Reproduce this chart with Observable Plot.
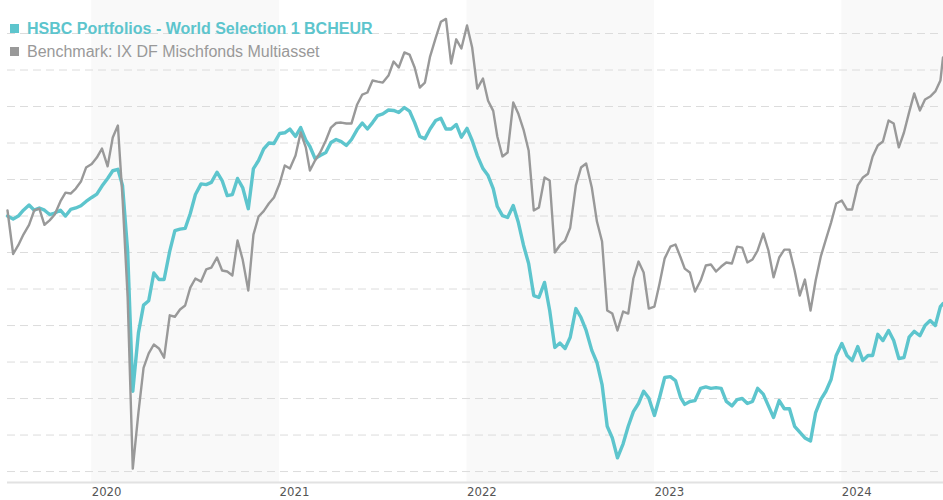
<!DOCTYPE html>
<html><head><meta charset="utf-8">
<script src="https://cdn.jsdelivr.net/npm/d3@7"></script>
<script src="https://cdn.jsdelivr.net/npm/@observablehq/plot@0.6"></script>
<style>
body{margin:0;background:#fff;}
#wrap{position:relative;width:943px;height:500px;}
#legend{position:absolute;left:10px;top:17px;font-family:"Liberation Sans",Arial,sans-serif;font-size:16px;line-height:23px;}
.item{display:flex;align-items:center;white-space:nowrap;}
.sw{width:9px;height:9px;margin-right:8px;}
</style></head><body><div id="wrap"><div id="chart"></div><div id="legend"></div></div>
<script>
// Series names
const seriesNames = ["HSBC Portfolios - World Selection 1 BCHEUR", "Benchmark: IX DF Mischfonds Multiasset"];
// Observation dates: 2019-07-21, then the 1st, 11th and 21st of each month, last 2024-07-16
const dates = ["2019-07-21"];
for (let y = 2019; y <= 2024; y++) for (let m = 1; m <= 12; m++) for (const d of [1, 11, 21]) {
  const s = `${y}-${String(m).padStart(2, "0")}-${String(d).padStart(2, "0")}`;
  if (s >= "2019-08-01" && s <= "2024-07-11") dates.push(s);
}
dates.push("2024-07-16");

// Performance (%)
const hsbc = [
  0.0, -0.2, 0.0, 0.4, 0.75, 0.4, 0.55, 0.4, 0.1, 0.2, 0.4, 0.0, 0.45, 0.55, 0.7, 1.0,
  1.27, 1.5, 2.05, 2.57, 3.1, 3.2, 2.1, -2.4, -12.0, -8.0, -6.1, -5.8, -3.9, -4.35, -4.35, -2.4, -1.0, -0.9,
  -0.85, 0.17, 1.47, 2.2, 2.15, 2.3, 3.0, 2.43, 1.4, 1.47, 2.57, 1.95, 0.5, 3.25, 3.8, 4.6, 5.0, 4.97,
  5.65, 5.7, 5.95, 5.45, 6.06, 5.2, 4.76, 3.94, 4.15, 4.35, 5.03, 5.24, 5.1, 4.83, 5.24, 5.92, 6.37, 5.96,
  6.4, 6.88, 7.0, 7.26, 7.23, 7.09, 7.43, 7.19, 6.4, 5.45, 5.3, 5.96, 6.54, 6.7, 5.96, 5.96, 6.27, 5.4,
  6.0, 5.17, 4.14, 3.25, 2.77, 1.88, 0.65, 0.03, -0.1, 0.72, -0.45, -2.0, -3.25, -5.45, -5.58, -4.55, -6.47, -9.0,
  -8.7, -9.07, -8.3, -6.34, -6.95, -7.84, -9.2, -10.03, -11.54, -14.4, -15.2, -16.56, -15.6, -14.4, -13.4, -12.84, -12.0, -12.47,
  -13.66, -12.43, -11.06, -11.0, -11.27, -12.43, -12.9, -12.7, -12.64, -11.8, -11.7, -11.8, -11.75, -11.8, -12.7, -13.0, -12.57, -12.5,
  -12.84, -12.7, -11.8, -12.2, -13.0, -13.8, -12.64, -13.2, -13.2, -14.4, -14.8, -15.2, -15.4, -13.46, -12.57, -12.0, -11.2, -9.55,
  -8.73, -9.55, -9.9, -8.94, -9.9, -9.55, -9.55, -8.1, -8.53, -7.84, -8.53, -9.76, -9.7, -8.3, -7.9, -8.2, -7.5, -7.16,
  -7.5, -6.2, -6.0
];
const benchmark = [
  0.38, -2.6, -2.0, -1.27, -0.6, 0.38, 0.5, -0.6, -0.3, 0.1, 1.0, 1.6, 1.54, 1.88, 2.36, 3.32,
  3.56, 4.0, 4.62, 3.4, 5.38, 6.2, 1.27, -5.58, -17.3, -13.46, -10.4, -9.4, -8.8, -9.07, -9.7, -6.8, -6.9, -6.4,
  -6.13, -4.9, -4.28, -4.49, -3.66, -3.53, -2.84, -3.73, -3.8, -4.07, -1.68, -2.98, -5.1, -1.27, -0.03, 0.34, 0.86, 1.27,
  2.23, 3.46, 3.25, 4.14, 5.72, 4.7, 3.12, 3.8, 4.35, 5.17, 6.06, 6.37, 6.4, 6.34, 6.34, 7.64, 8.32, 8.46,
  9.28, 9.2, 9.14, 9.62, 10.58, 10.17, 11.2, 11.06, 10.17, 8.8, 9.14, 10.92, 12.2, 13.3, 13.5, 10.45, 12.1, 11.47,
  13.05, 11.54, 8.73, 9.42, 7.9, 7.2, 5.45, 4.08, 4.35, 7.77, 7.0, 5.92, 4.49, 0.38, 0.58, 2.64, 2.43, -2.5,
  -2.0, -1.68, -0.8, 2.1, 3.32, 3.6, 1.95, -0.38, -1.75, -6.47, -6.68, -7.84, -6.54, -6.68, -4.28, -3.12, -3.87, -6.34,
  -6.2, -4.62, -2.9, -2.1, -1.95, -2.84, -3.6, -3.87, -5.17, -4.42, -3.39, -3.32, -3.8, -3.46, -3.18, -3.25, -2.1, -2.16,
  -3.18, -2.98, -2.36, -1.2, -2.36, -4.2, -2.84, -2.3, -2.3, -3.73, -5.45, -4.35, -6.47, -4.42, -2.77, -1.6, -0.45, 0.86,
  1.06, 0.45, 0.45, 2.1, 2.64, 2.9, 4.08, 4.83, 5.1, 6.54, 6.34, 4.7, 5.72, 7.1, 8.4, 7.23, 7.98, 8.18,
  8.53, 9.28, 10.86
];
// Horizontal gridline values (%)
const gridValues = [-17.5, -15, -12.5, -10, -7.5, -5, -2.5, 0, 2.5, 5, 7.5, 10, 12.5];
// Year tick labels
const yearTicks = ["2020-01-01", "2021-01-01", "2022-01-01", "2023-01-01", "2024-01-01"];
// Shaded years
const shadedYears = [["2020-01-01", "2021-01-01"], ["2022-01-01", "2023-01-01"], ["2024-01-01", "2024-07-17"]];
const xStart = "2019-07-21", xEnd = "2024-07-17";
const yMin = -18.25, yMax = 14.76;

const colors = ["#5dc5cd", "#999999"];
const parse = d3.utcParse("%Y-%m-%d");
const rows = dates.map((d, i) => ({date: parse(d), hsbc: hsbc[i], bench: benchmark[i]}));

const chart = Plot.plot({
  width: 943, height: 500,
  marginLeft: 7, marginRight: 0, marginTop: 0, marginBottom: 18,
  style: {fontFamily: "'DejaVu Sans Condensed', 'DejaVu Sans', sans-serif", background: "#fff"},
  x: {type: "utc", domain: [parse(xStart), parse(xEnd)]},
  y: {domain: [yMin, yMax], axis: null},
  marks: [
    Plot.rect(shadedYears, {x1: d => parse(d[0]), x2: d => parse(d[1]), fill: "#f9f9f9"}),
    Plot.ruleY(gridValues, {stroke: "#dcdcdc", strokeWidth: 1, strokeDasharray: "8,5"}),
    Plot.ruleY([yMin], {stroke: "#e2e2e2", strokeWidth: 2}),
    Plot.line(rows, {x: "date", y: "hsbc", stroke: colors[0], strokeWidth: 3.4, strokeLinejoin: "round"}),
    Plot.line(rows, {x: "date", y: "bench", stroke: colors[1], strokeWidth: 2.4, strokeLinejoin: "round"}),
    Plot.axisX(yearTicks.map(parse), {tickFormat: "%Y", tickSize: 0, tickPadding: 4, textAnchor: "start", fill: "#555", fontSize: 13})
  ]
});
document.getElementById("chart").appendChild(chart);

const legend = document.getElementById("legend");
seriesNames.forEach((name, i) => {
  const item = document.createElement("div");
  item.className = "item";
  item.style.color = colors[i];
  if (i === 0) item.style.fontWeight = "bold";
  const sw = document.createElement("span");
  sw.className = "sw";
  sw.style.background = colors[i];
  item.appendChild(sw);
  item.appendChild(document.createTextNode(name));
  legend.appendChild(item);
});
</script>
</body></html>
